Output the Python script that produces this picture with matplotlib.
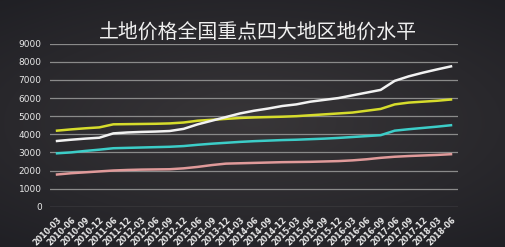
import numpy as np
import matplotlib.pyplot as plt

plt.rcParams['font.family'] = ['Noto Sans CJK SC', 'DejaVu Sans']

# quarter labels on the x axis
dates = ['2010-03', '2010-06', '2010-09', '2010-12', '2011-06', '2011-12',
         '2012-03', '2012-06', '2012-09', '2012-12', '2013-06', '2013-09',
         '2013-12', '2014-03', '2014-06', '2014-09', '2014-12', '2015-03',
         '2015-06', '2015-09', '2015-12', '2016-03', '2016-06', '2016-09',
         '2017-06', '2017-09', '2017-12', '2018-03', '2018-06']

# land price series
white = [3630, 3700, 3760, 3810, 4050, 4100, 4130, 4150, 4180, 4300,
         4550, 4750, 4950, 5150, 5300, 5420, 5560, 5650, 5800, 5900,
         6000, 6150, 6300, 6450, 6950, 7200, 7400, 7580, 7750]
yellow = [4200, 4270, 4330, 4380, 4550, 4560, 4570, 4580, 4600, 4650,
          4750, 4800, 4850, 4900, 4930, 4950, 4970, 5000, 5050, 5100,
          5150, 5200, 5300, 5400, 5650, 5750, 5800, 5850, 5920]
cyan = [2950, 3000, 3080, 3150, 3230, 3250, 3270, 3290, 3310, 3350,
        3420, 3480, 3530, 3580, 3620, 3650, 3680, 3700, 3730, 3760,
        3800, 3850, 3900, 3950, 4200, 4280, 4350, 4420, 4500]
pink = [1780, 1850, 1900, 1950, 2000, 2030, 2050, 2060, 2070, 2120,
        2200, 2300, 2380, 2400, 2420, 2440, 2460, 2470, 2480, 2500,
        2520, 2560, 2620, 2700, 2760, 2800, 2830, 2860, 2900]

fig = plt.figure(figsize=(5.05, 2.47), dpi=100)

# dark background, a bit lighter in the middle
bg = fig.add_axes([0, 0, 1, 1], zorder=-10)
yy, xx = np.mgrid[-1:1:200j, -1:1:400j]
r = np.sqrt((xx * 0.9) ** 2 + (yy * 1.1) ** 2)
shade = np.clip(1 - r / 1.5, 0, 1)
img = np.zeros((200, 400, 3))
img[..., 0] = 0.12 + 0.10 * shade
img[..., 1] = 0.12 + 0.09 * shade
img[..., 2] = 0.14 + 0.08 * shade
bg.imshow(img, aspect='auto', extent=[0, 1, 0, 1])
bg.axis('off')

ax = fig.add_axes([0.099, 0.163, 0.808, 0.66])
ax.patch.set_alpha(0)
x = np.arange(len(dates))
ax.plot(x, pink, color='#e09a9a', lw=1.8)
ax.plot(x, cyan, color='#3ccdc8', lw=1.8)
ax.plot(x, yellow, color='#d6dc2c', lw=1.8)
ax.plot(x, white, color='#f2f2f2', lw=1.8)

ax.set_xlim(-0.5, len(dates) - 0.5)
ax.set_ylim(0, 9000)
ax.set_yticks(range(0, 9001, 1000))
ax.grid(axis='y', color='#8a8a8a', lw=0.9)
ax.set_axisbelow(True)
for s in ax.spines.values():
    s.set_visible(False)
ax.tick_params(length=0, colors='#e8e8e8', pad=6)
ax.tick_params(axis='x', labelsize=5.8)
ax.tick_params(axis='y', labelsize=6.5)
ax.set_xticks(x)
ax.set_xticklabels(dates, rotation=45, ha='right', rotation_mode='anchor',
                   fontweight='bold', family='DejaVu Sans')
for lab in ax.get_yticklabels():
    lab.set_family('DejaVu Sans')

fig.text(0.51, 0.865, '土地价格全国重点四大地区地价水平', color='#f0f0f0',
         fontsize=14.3, ha='center', va='center')

plt.savefig('out.png', dpi=100)
